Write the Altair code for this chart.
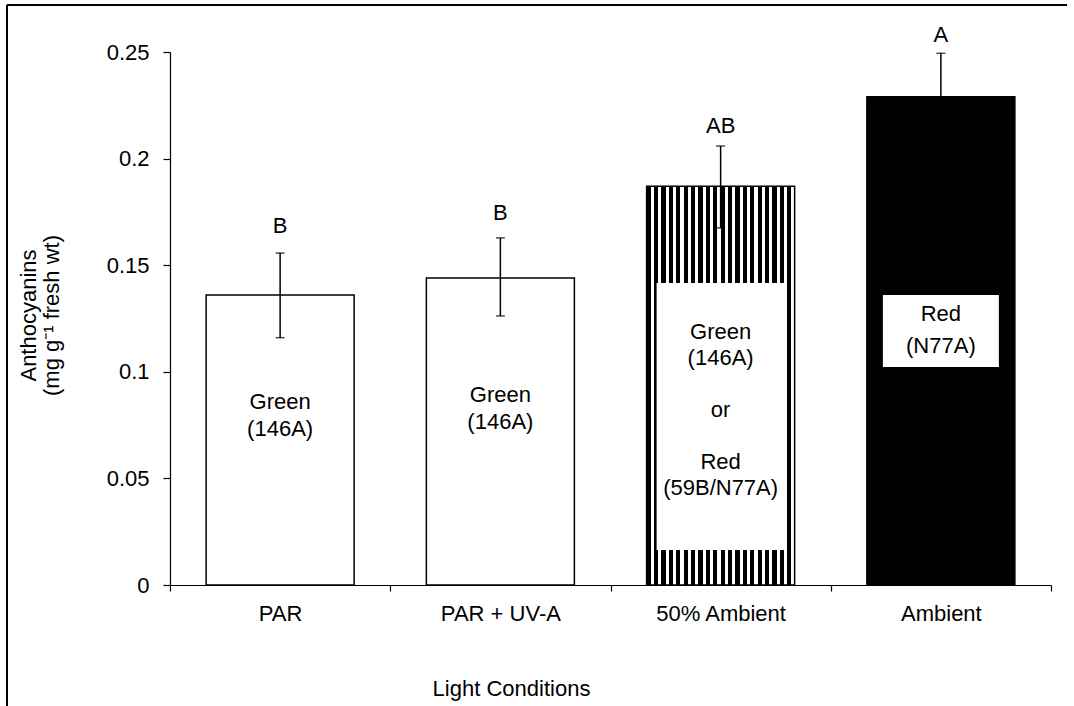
import altair as alt
import pandas as pd

# ---- data ----
conditions = ["PAR", "PAR + UV-A", "50% Ambient", "Ambient"]
means = [0.136, 0.144, 0.187, 0.229]
err_hi = [0.1557, 0.1628, 0.2059, 0.2494]
err_lo = [0.1160, 0.1262, 0.1675, 0.2082]
letters = ["B", "B", "AB", "A"]
letter_y = [0.1684, 0.1747, 0.2153, 0.2580]
fill_kind = ["open", "open", "striped", "solid"]

# in-bar labels (first-line centre given in data units)
label_cond = ["PAR", "PAR + UV-A", "50% Ambient", "50% Ambient", "50% Ambient", "Ambient"]
label_text = ["Green\n(146A)", "Green\n(146A)", "Green\n(146A)", "or",
              "Red\n(59B/N77A)", "Red\n(N77A)"]
label_y = [0.0858, 0.0891, 0.1187, 0.0821, 0.0577, 0.1271]
label_wide = [False, False, False, False, False, True]

box_cond = ["50% Ambient", "Ambient"]
box_lo = [0.0164, 0.1023]
box_hi = [0.1417, 0.1360]

df = pd.DataFrame({
    "condition": conditions, "mean": means, "hi": err_hi, "lo": err_lo,
    "letter": letters, "letter_y": letter_y, "kind": fill_kind,
})
labels = pd.DataFrame({"condition": label_cond, "label": label_text,
                       "label_y": label_y, "wide": label_wide})
boxes = pd.DataFrame({"condition": box_cond, "lo": box_lo, "hi": box_hi})

FONT = "Liberation Sans"
FS = 22

x_enc = alt.X("condition:N", sort=conditions,
              scale=alt.Scale(domain=conditions, paddingInner=0, paddingOuter=0),
              axis=alt.Axis(title="Light Conditions", tickBand="extent",
                            labelAngle=0, tickSize=6, labelPadding=12,
                            titleX=341, titleY=103, titleAlign="center",
                            titleBaseline="middle", titleAnchor="start"))
y_scale = alt.Scale(domain=[0, 0.25], nice=False, zero=True)
y_axis = alt.Axis(values=[0, 0.05, 0.1, 0.15, 0.2, 0.25], format=".2~f",
                  title=["Anthocyanins", "(mg g\u207b\u00b9 fresh wt)"],
                  titleX=-142, titleY=263, titleAlign="center",
                  titleBaseline="middle", titleLineHeight=23,
                  tickSize=7, labelPadding=14, grid=False)

base = alt.Chart(df)
BAR_W = alt.RelativeBandSize(148 / 220.25)

open_bars = base.transform_filter(alt.datum.kind == "open").mark_bar(
    fill="white", stroke="black", strokeWidth=1.5, width=BAR_W
).encode(x=x_enc, y=alt.Y("mean:Q", scale=y_scale, axis=y_axis))

N = 20
stops = []
for i in range(N):
    a = i / N
    b = (i + 0.57) / N
    c = (i + 1) / N
    stops += [alt.GradientStop(offset=a, color="black"),
              alt.GradientStop(offset=b, color="black"),
              alt.GradientStop(offset=b, color="white"),
              alt.GradientStop(offset=c, color="white")]
stripe = alt.LinearGradient(gradient="linear", stops=stops, x1=0, x2=1, y1=0, y2=0)

striped_bar = base.transform_filter(alt.datum.kind == "striped").mark_bar(
    fill=stripe, stroke="black", strokeWidth=1.5, width=BAR_W
).encode(x=x_enc, y=alt.Y("mean:Q", scale=y_scale, axis=y_axis))

solid_bar = base.transform_filter(alt.datum.kind == "solid").mark_bar(
    fill="black", stroke="black", strokeWidth=1.5, width=BAR_W
).encode(x=x_enc, y=alt.Y("mean:Q", scale=y_scale, axis=y_axis))

box_a = alt.Chart(boxes).transform_filter(alt.datum.condition == "50% Ambient").mark_bar(
    fill="white", width=alt.RelativeBandSize(128 / 220.25)
).encode(x=x_enc, y=alt.Y("lo:Q", scale=y_scale), y2="hi:Q")
box_b = alt.Chart(boxes).transform_filter(alt.datum.condition == "Ambient").mark_bar(
    fill="white", width=alt.RelativeBandSize(116 / 220.25)
).encode(x=x_enc, y=alt.Y("lo:Q", scale=y_scale), y2="hi:Q")

err_rule = base.mark_rule(color="black", strokeWidth=1.5).encode(
    x=x_enc, y=alt.Y("lo:Q", scale=y_scale), y2="hi:Q")
cap_hi = base.mark_tick(color="black", orient="horizontal", size=9, thickness=1.5).encode(
    x=x_enc, y=alt.Y("hi:Q", scale=y_scale))
cap_lo = base.mark_tick(color="black", orient="horizontal", size=9, thickness=1.5).encode(
    x=x_enc, y=alt.Y("lo:Q", scale=y_scale))

letter_marks = base.mark_text(font=FONT, fontSize=FS, color="black",
                              baseline="middle", align="center").encode(
    x=x_enc, y=alt.Y("letter_y:Q", scale=y_scale), text="letter:N")

lab = alt.Chart(labels)
label_marks = lab.transform_filter("!datum.wide").mark_text(
    font=FONT, fontSize=FS, color="black", baseline="middle", align="center",
    lineBreak="\n", lineHeight=26.5).encode(
    x=x_enc, y=alt.Y("label_y:Q", scale=y_scale), text="label:N")
label_marks2 = lab.transform_filter("datum.wide").mark_text(
    font=FONT, fontSize=FS, color="black", baseline="middle", align="center",
    lineBreak="\n", lineHeight=32).encode(
    x=x_enc, y=alt.Y("label_y:Q", scale=y_scale), text="label:N")

frame_data = alt.Data(values=[{"f": 1}])
frame_top = alt.Chart(frame_data).mark_rule(color="black", strokeWidth=2).encode(
    x=alt.value(-163), x2=alt.value(897), y=alt.value(-47))
frame_left = alt.Chart(frame_data).mark_rule(color="black", strokeWidth=2).encode(
    x=alt.value(-163), y=alt.value(-47), y2=alt.value(660))

chart = alt.layer(
    open_bars, striped_bar, solid_bar, box_a, box_b,
    err_rule, cap_hi, cap_lo, letter_marks, label_marks, label_marks2,
    frame_top, frame_left,
).properties(
    width=881, height=533,
    autosize=alt.AutoSizeParams(type="none"),
    padding={"left": 170, "top": 52, "right": 23, "bottom": 121},
).configure(
    background="white",
    view=alt.ViewConfig(stroke=None),
    axis=alt.AxisConfig(
        labelFont=FONT, labelFontSize=FS, labelColor="black",
        titleFont=FONT, titleFontSize=FS, titleColor="black", titleFontWeight="normal",
        domainColor="black", tickColor="black", domainWidth=1.2, tickWidth=1.2,
    ),
)

chart.save("out.html", embed_options={"renderer": "svg", "actions": False})
